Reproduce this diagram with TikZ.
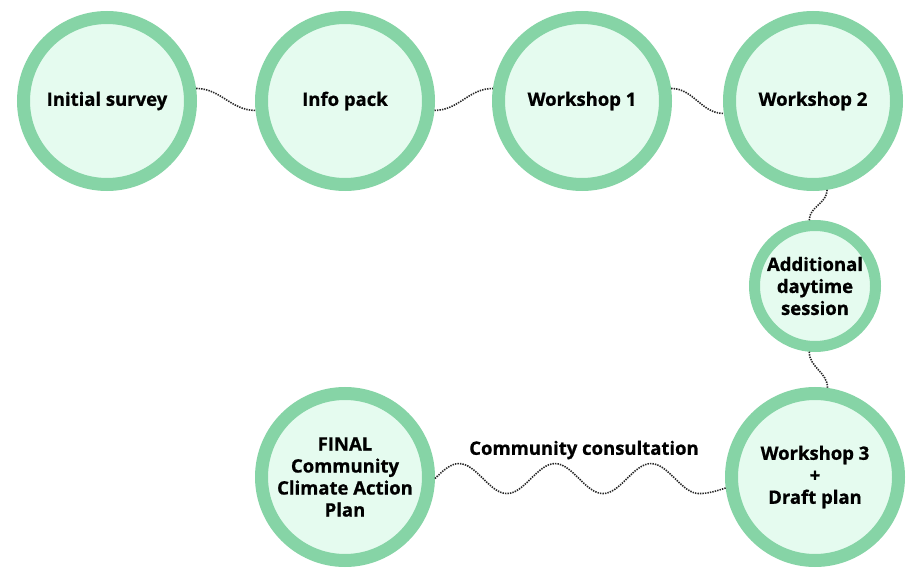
\documentclass[tikz,border=0pt]{standalone}
\usepackage{fontspec}
\setsansfont{Open Sans}[BoldFeatures={FakeBold=0.8}]
\usetikzlibrary{positioning}
\definecolor{ringgreen}{RGB}{134,212,166}
\definecolor{mint}{RGB}{229,251,239}
\definecolor{dotgray}{RGB}{40,40,40}

\begin{document}
\begin{tikzpicture}[x=1pt, y=1pt,
                    stage/.style={draw=ringgreen, fill=mint, circle, line width=13pt, minimum size=167pt, inner sep=0pt, align=center, font=\sffamily\bfseries\fontsize{18.5}{22}\selectfont},
                    minor/.style={stage, line width=11pt, minimum size=121pt},
                    tag/.style={inner sep=0pt, font=\sffamily\bfseries\fontsize{18.5}{22}\selectfont},
                    link/.style={draw=dotgray, line width=1.6pt, dash pattern=on 1.4pt off 1.1pt}]
    \useasboundingbox (0,0) rectangle (908,-569);
    % Nodes
    \node [stage]                      (survey)   at (107,-101) {Initial survey};
    \node [stage, right=58pt of survey] (info)     {Info pack};
    \node [stage, right=57pt of info]   (wsone)    {Workshop 1};
    \node [stage, right=51pt of wsone]  (wstwo)    {Workshop 2};
    \node [minor, below=29pt of wstwo, xshift=2pt] (daytime)  {Additional\\daytime\\session};
    \node [stage, below=35pt of daytime] (wsthree)  {Workshop 3\\+\\Draft plan};
    \node [stage, left=290pt of wsthree] (final)    {FINAL\\Community\\Climate Action\\Plan};
    \node [tag] (consult) at (584,-450) {Community consultation};

    % Paths
    \path [link] (survey.8)    to[out=0, in=180]   (info.186);
    \path [link] (info.-6)     to[out=0, in=180]   (wsone.172);
    \path [link] (wsone.8)     to[out=0, in=180]   (wstwo.188);
    \path [link] (wstwo.-81)   to[out=-90, in=90]  (daytime.95);
    \path [link] (daytime.265) to[out=-90, in=90]  (wsthree.82);
    % wave: three periods
    \path [link] (final.-1)
        sin ++(24,15) cos ++(24,-15) sin ++(24,-15) cos ++(24,15)
        sin ++(24,15) cos ++(24,-15) sin ++(24,-15) cos ++(24,15)
        sin ++(24,15) cos ++(24,-15) sin ++(24,-15) cos (wsthree.187);
\end{tikzpicture}
\end{document}
